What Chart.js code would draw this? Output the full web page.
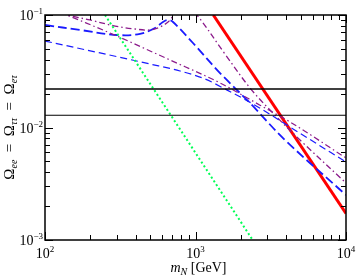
<!DOCTYPE html>
<html>
<head>
<meta charset="utf-8">
<script src="https://cdn.jsdelivr.net/npm/chart.js@4.4.0/dist/chart.umd.min.js"></script>
<style>
  html, body { margin: 0; padding: 0; background: #fff; }
  #wrap { width: 357px; height: 276px; }
</style>
</head>
<body>
<div id="wrap"><canvas id="c"></canvas></div>
<script>
// tick labels (powers of ten)
const xTickExp = [2, 3, 4]
const yTickExp = [-3, -2, -1]

// m_N [GeV] vs Omega
const redMass = [1313, 10000]
const redOmega = [0.1, 0.001724]

const greenMass = [250.5, 2399]
const greenOmega = [0.1, 0.001]

const blueAMass = [100, 171, 301, 428, 538, 608, 657, 709, 962, 1455, 2302, 3933, 10000]
const blueAOmega = [0.0815, 0.0736, 0.0664, 0.0678, 0.0766, 0.0867, 0.0903, 0.0867, 0.0564, 0.0305, 0.0165, 0.00774, 0.00251]

const blueBMass = [100, 232, 498, 789, 1156, 1570, 2485, 4246, 10000]
const blueBOmega = [0.0587, 0.0460, 0.0367, 0.0318, 0.0270, 0.0220, 0.0158, 0.0101, 0.00493]

const purpleAMass = [126, 140, 199, 292, 396, 498, 581, 657, 709, 742, 865, 1023, 1570, 2302, 3126, 4948, 10000]
const purpleAOmega = [0.1063, 0.1, 0.0903, 0.0798, 0.0751, 0.0736, 0.0782, 0.0867, 0.0980, 0.1063, 0.1227, 0.1, 0.0450, 0.02245, 0.0143, 0.00774, 0.00321]

const purpleBMass = [126, 140, 270, 677, 1455, 2683, 4246, 10000]
const purpleBOmega = [0.1063, 0.1, 0.0692, 0.0398, 0.0249, 0.0158, 0.0112, 0.00536]

const levelMass = [100, 10000]
const levelUpper = [0.022, 0.022]
const levelLower = [0.01283, 0.01283]

const pts = (xs, ys) => xs.map((v, i) => ({ x: v, y: ys[i] }))

const serif = '"Liberation Serif", "DejaVu Serif", serif'

function pieces(ctx, parts, x, y) {
    // parts: [text, size, dy, italic]
    let cx = x
    for (const [t, size, dy, it] of parts) {
        ctx.font = (it ? 'italic ' : '') + size + 'px ' + serif
        ctx.fillText(t, cx, y + dy)
        cx += ctx.measureText(t).width
    }
    return cx - x
}
function measure(ctx, parts) {
    let w = 0
    for (const [t, size, dy, it] of parts) {
        ctx.font = (it ? 'italic ' : '') + size + 'px ' + serif
        w += ctx.measureText(t).width
    }
    return w
}
const pow = e => [['10', 14, 0, false], [String(e).replace('-', '\u2212'), 9, -6, false]]

const frame = {
    id: 'frame',
    afterDatasetsDraw(chart) {
        const { ctx, chartArea: a, scales: { x, y } } = chart
        ctx.save()
        ctx.strokeStyle = '#000'
        ctx.fillStyle = '#000'
        ctx.lineWidth = 1
        const seg = (x1, y1, x2, y2) => { ctx.beginPath(); ctx.moveTo(x1, y1); ctx.lineTo(x2, y2); ctx.stroke() }
        for (let e = 2; e <= 4; e++) for (let k = 1; k <= 9; k++) {
            const v = k * Math.pow(10, e)
            if (v > 1e4) break
            const px = Math.round(x.getPixelForValue(v)) + 0.5
            const len = k === 1 ? 8 : 5
            seg(px, a.bottom, px, a.bottom - len)
            seg(px, a.top, px, a.top + len)
        }
        for (let e = -3; e <= -1; e++) for (let k = 1; k <= 9; k++) {
            const v = k * Math.pow(10, e)
            if (v > 0.1 + 1e-9) break
            const py = Math.round(y.getPixelForValue(v)) + 0.5
            const len = k === 1 ? 8 : 5
            seg(a.left, py, a.left + len, py)
            seg(a.right, py, a.right - len, py)
        }
        ctx.lineWidth = 1.5
        ctx.strokeRect(a.left, a.top, a.right - a.left, a.bottom - a.top)

        ctx.textBaseline = 'alphabetic'
        ctx.textAlign = 'left'
        xTickExp.forEach(e => {
            const p = pow(e)
            const px = x.getPixelForValue(Math.pow(10, e))
            pieces(ctx, p, px - measure(ctx, p) / 2, a.bottom + 18)
        })
        yTickExp.forEach(e => {
            const p = pow(e)
            const py = y.getPixelForValue(Math.pow(10, e))
            pieces(ctx, p, a.left - 2 - measure(ctx, p), py + 5)
        })

        const xl = [['m', 14, 0, true], ['N', 10, 3, true], [' [GeV]', 14, 0, false]]
        pieces(ctx, xl, (a.left + a.right) / 2 - measure(ctx, xl) / 2 + 3, 272)

        const yl = [['\u03a9', 15, 0, false], ['ee', 10, 3, true], ['  =  \u03a9', 15, 0, false], ['\u03c4\u03c4', 10, 3, true],
            ['  =  \u03a9', 15, 0, false], ['e\u03c4', 10, 3, true]]
        ctx.translate(14, (a.top + a.bottom) / 2)
        ctx.rotate(-Math.PI / 2)
        pieces(ctx, yl, -measure(ctx, yl) / 2, 0)
        ctx.restore()
    }
}

const common = { showLine: true, pointRadius: 0, fill: false, clip: 0 }

new Chart(document.getElementById('c'), {
    type: 'scatter',
    data: {
        datasets: [
            { ...common, data: pts(levelMass, levelUpper), borderColor: '#000', borderWidth: 1.4 },
            { ...common, data: pts(levelMass, levelLower), borderColor: '#000', borderWidth: 1.1 },
            { ...common, data: pts(greenMass, greenOmega), borderColor: '#00ff55', borderWidth: 2, borderDash: [2, 2.5] },
            { ...common, data: pts(blueBMass, blueBOmega), borderColor: '#1a1aff', borderWidth: 1.2, borderDash: [7, 4], cubicInterpolationMode: 'monotone' },
            { ...common, data: pts(purpleBMass, purpleBOmega), borderColor: '#8b1a8b', borderWidth: 1.2, borderDash: [6, 3, 1.5, 3], cubicInterpolationMode: 'monotone' },
            { ...common, data: pts(purpleAMass, purpleAOmega), borderColor: '#8b1a8b', borderWidth: 1.3, borderDash: [6, 3, 1.5, 3], tension: 0.35 },
            { ...common, data: pts(blueAMass, blueAOmega), borderColor: '#1a1aff', borderWidth: 1.8, borderDash: [9, 4], tension: 0.35 },
            { ...common, data: pts(redMass, redOmega), borderColor: '#ff0000', borderWidth: 3 }
        ]
    },
    options: {
        responsive: true,
        maintainAspectRatio: false,
        devicePixelRatio: 1,
        animation: false,
        layout: { padding: { left: 45, right: 11, top: 15, bottom: 36 } },
        plugins: { legend: { display: false }, tooltip: { enabled: false } },
        scales: {
            x: { type: 'logarithmic', min: 100, max: 10000, display: false },
            y: { type: 'logarithmic', min: 0.001, max: 0.1, display: false }
        }
    },
    plugins: [frame]
})
</script>
</body>
</html>
